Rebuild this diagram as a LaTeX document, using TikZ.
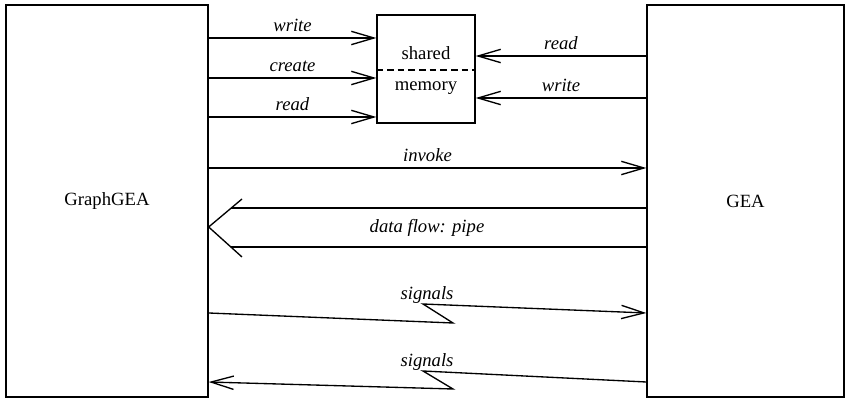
\documentclass[tikz,border=0pt]{standalone}
\usepackage{fontspec}
\setmainfont{Liberation Serif}
\usetikzlibrary{positioning}
\usetikzlibrary{arrows.meta}

\begin{document}
\begin{tikzpicture}[x=0.75pt,y=-0.75pt,line width=1pt,
	box/.style={draw,rectangle,inner sep=0pt,font=\fontsize{14}{16}\selectfont},
	arr/.style={-{Straight Barb[length=17pt,width=10pt,line width=1pt]}},
	lbl/.style={above=1pt,font=\fontsize{14}{16}\selectfont\itshape}]
		\useasboundingbox (0,0) rectangle (846,398);
		\node[box,minimum width = 151.5pt,minimum height = 294pt] at (107,201) (graphgea) {GraphGEA};
		\node[box,minimum width = 147.75pt,minimum height = 294pt] at (745.5,201) (gea) {GEA};
		\node[box,minimum width = 73.5pt,minimum height = 81pt] at (426,69) (shm) {};
		\node[font=\fontsize{14}{16}\selectfont] at (426,53) (shared) {shared};
		\node[font=\fontsize{14}{16}\selectfont] at (426,88) (memory) {memory};
		\draw[dashed,dash pattern=on 5pt off 3pt] (shm.west |- 0,70) -- (shm.east |- 0,70);
		% rows of the connectors
		\coordinate (r1) at (0,38);
		\coordinate (r2) at (0,78);
		\coordinate (r3) at (0,117);
		\coordinate (r4) at (0,56);
		\coordinate (r5) at (0,98);
		\coordinate (r6) at (0,168);
		\draw[arr] (graphgea.east |- r1) -- node[lbl] {write} (shm.west |- r1);
		\draw[arr] (graphgea.east |- r2) -- node[lbl] {create} (shm.west |- r2);
		\draw[arr] (graphgea.east |- r3) -- node[lbl] {read} (shm.west |- r3);
		\draw[arr] (gea.west |- r4) -- node[lbl] {read} (shm.east |- r4);
		\draw[arr] (gea.west |- r5) -- node[lbl] {write} (shm.east |- r5);
		\draw[arr] (graphgea.east |- r6) -- node[lbl] {invoke} (gea.west |- r6);
		% pipe
		\coordinate (pipetip) at (graphgea.east |- 0,227);
		\coordinate (pipeup) at (242,199);
		\coordinate (pipedown) at (242,257);
		\draw (pipeup) -- (pipetip) -- (pipedown);
		\draw (231,208) -- (gea.west |- 0,208);
		\draw (231,247) -- (gea.west |- 0,247);
		\node[font=\fontsize{14}{16}\selectfont\itshape] at (427,228) (pipe) {data flow: pipe};
		% signals
		\node[font=\fontsize{14}{16}\selectfont\itshape] at (427,295) (sig1) {signals};
		\node[font=\fontsize{14}{16}\selectfont\itshape] at (427,362) (sig2) {signals};
		\draw[arr] (graphgea.east |- 0,313) -- (453,323) -- (423,304) -- (gea.west |- 0,313);
		\draw[arr] (gea.west |- 0,382) -- (423,371) -- (453,389) -- (graphgea.east |- 0,382);
	\end{tikzpicture}
\end{document}
